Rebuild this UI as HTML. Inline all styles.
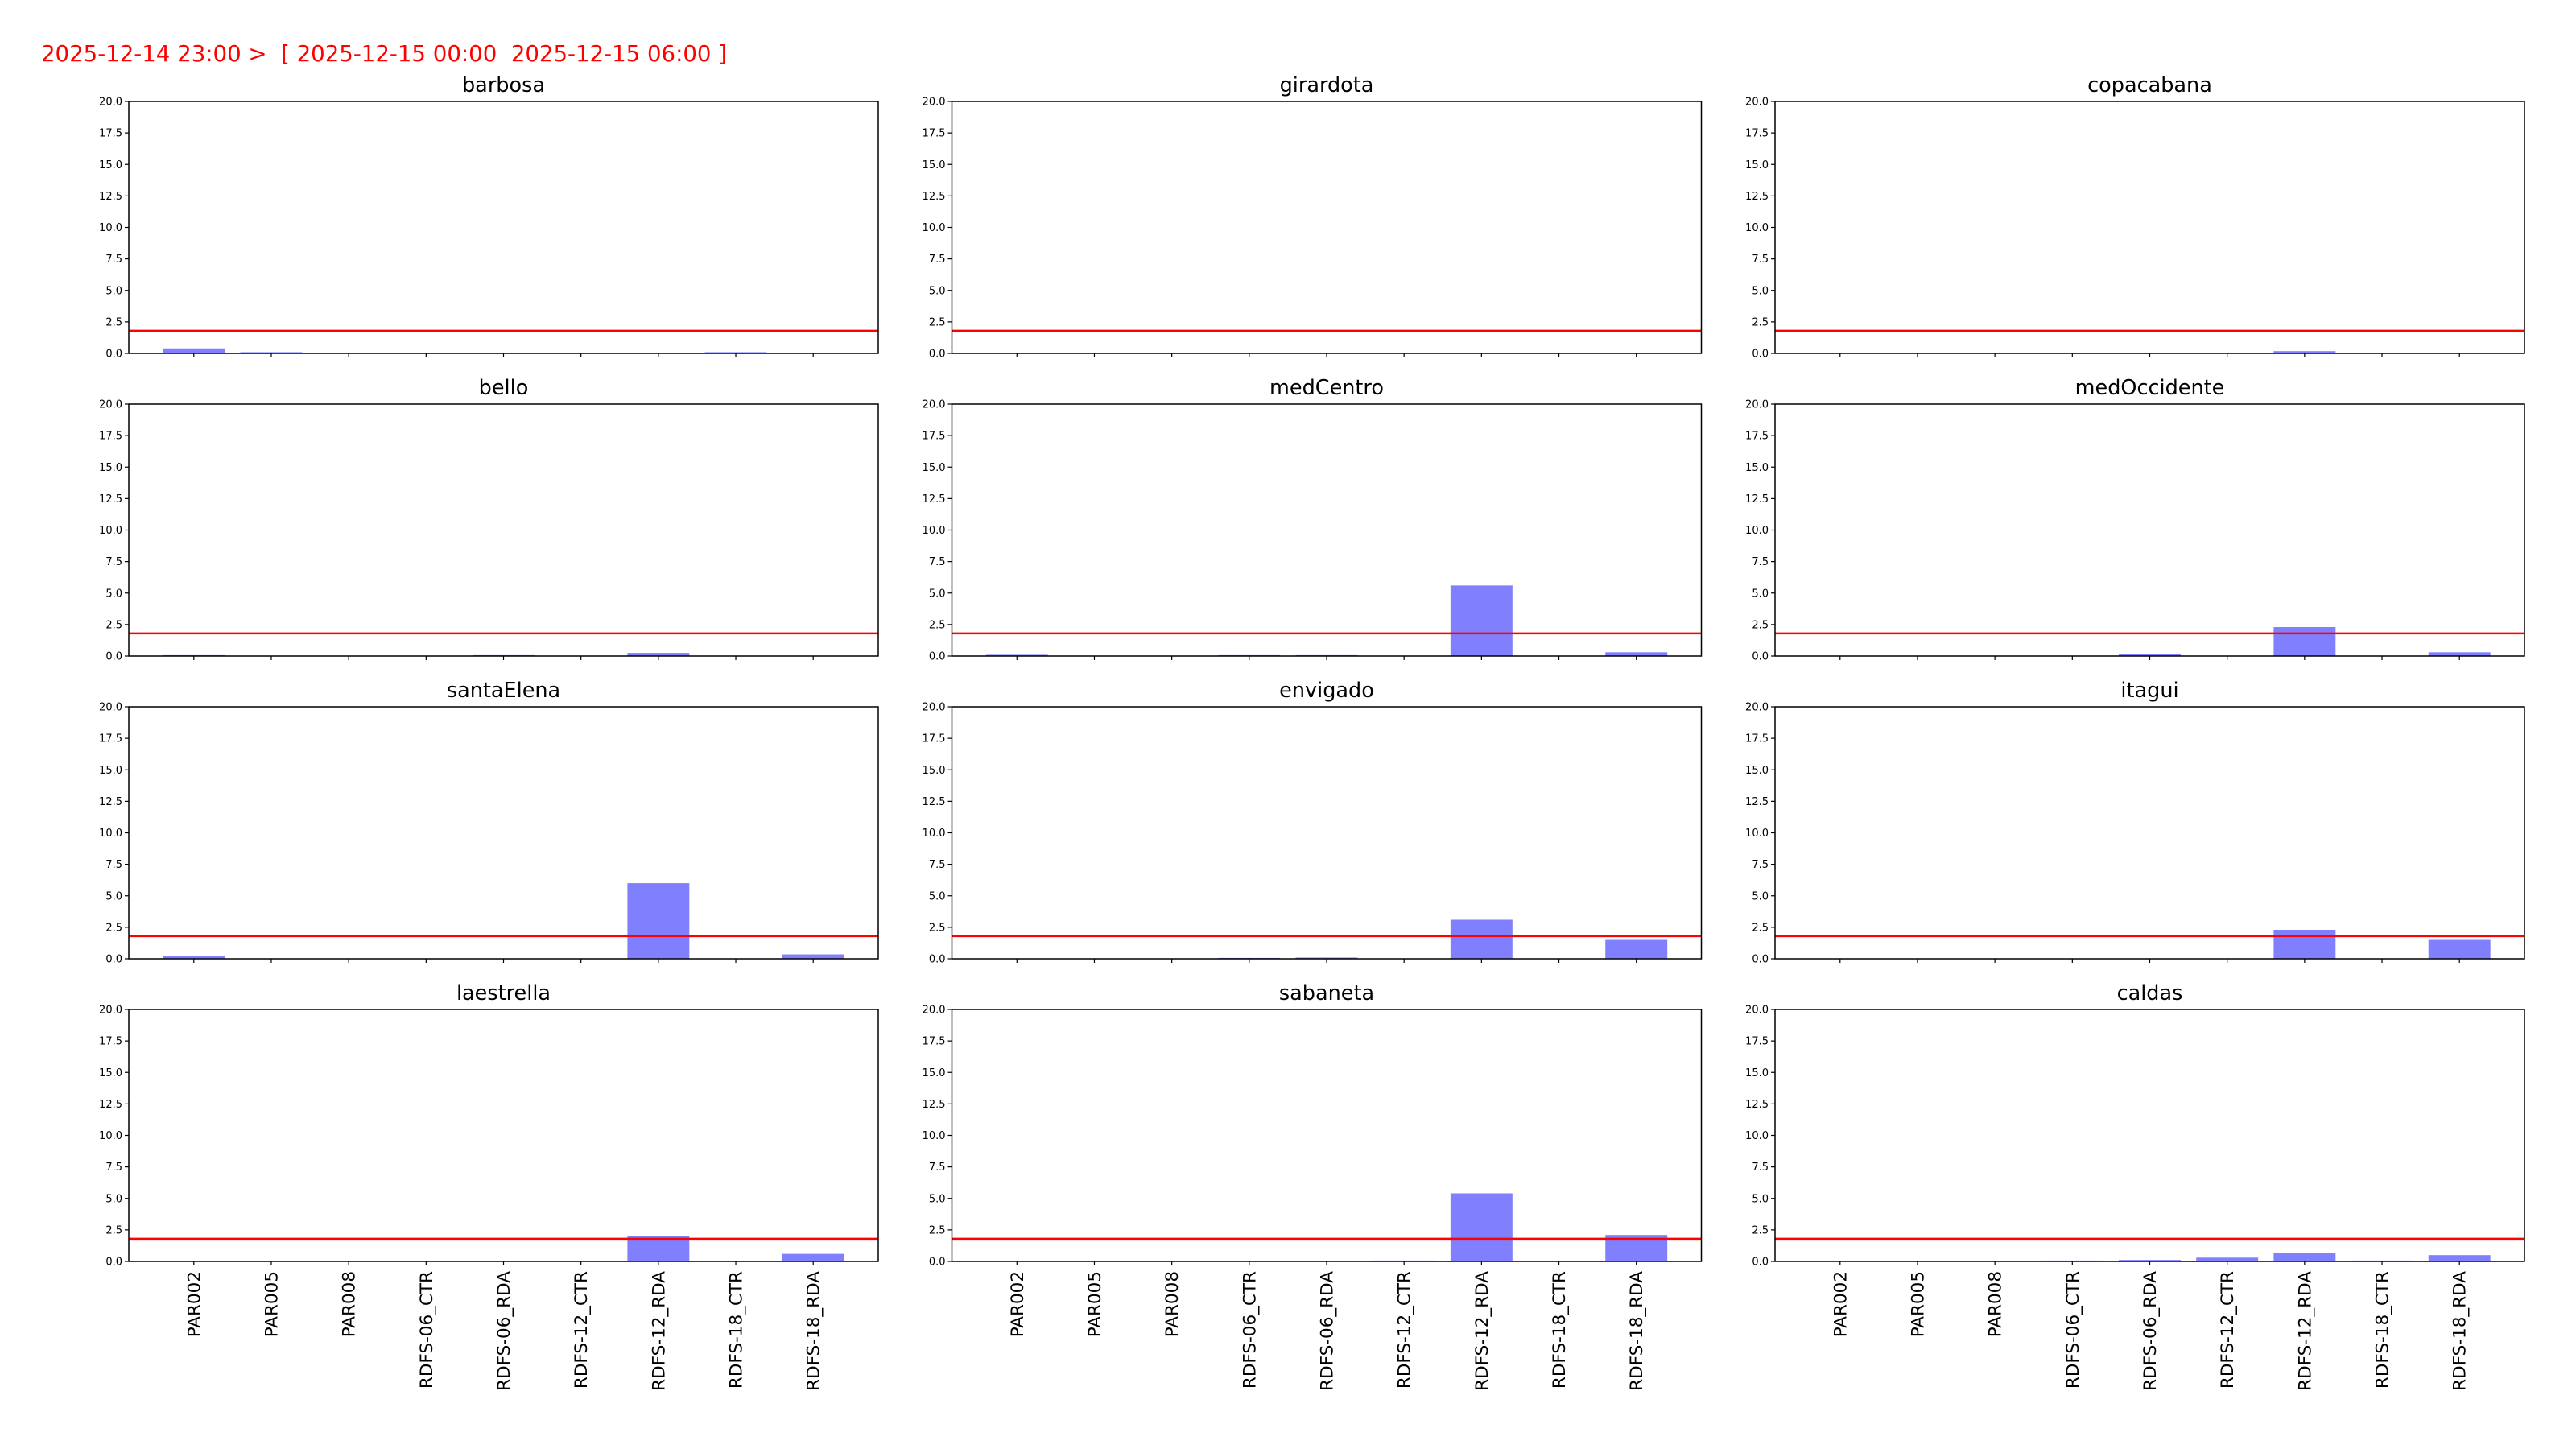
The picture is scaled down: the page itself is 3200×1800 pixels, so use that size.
<!DOCTYPE html>
<html><head><meta charset="utf-8"><style>
html,body{margin:0;padding:0;background:#fff;}
svg{display:block;font-family:"DejaVu Sans","Liberation Sans",sans-serif;}
</style></head><body>
<svg id="fig" width="3200" height="1800" viewBox="0 0 3200 1800" xmlns="http://www.w3.org/2000/svg">
<rect width="3200" height="1800" fill="#fff"/>
<text x="51" y="76" font-size="27.6" fill="#ff0000" xml:space="preserve">2025-12-14 23:00 &gt;  [ 2025-12-15 00:00  2025-12-15 06:00 ]</text>
</svg>
<script>
const categories = ["PAR002","PAR005","PAR008","RDFS-06_CTR","RDFS-06_RDA","RDFS-12_CTR","RDFS-12_RDA","RDFS-18_CTR","RDFS-18_RDA"];
const stations = ["barbosa","girardota","copacabana","bello","medCentro","medOccidente","santaElena","envigado","itagui","laestrella","sabaneta","caldas"];
const barbosaValues = [0.4,0.1,0,0,0,0,0,0.1,0];
const girardotaValues = [0,0,0,0,0,0,0,0,0];
const copacabanaValues = [0,0,0,0,0,0,0.18,0,0];
const belloValues = [0.07,0,0,0,0.07,0,0.25,0,0];
const medCentroValues = [0.1,0,0,0.07,0.07,0,5.6,0,0.3];
const medOccidenteValues = [0,0,0,0,0.15,0,2.3,0,0.3];
const santaElenaValues = [0.2,0,0,0,0,0,6.0,0,0.35];
const envigadoValues = [0,0,0,0.07,0.1,0,3.1,0,1.5];
const itaguiValues = [0,0,0,0,0,0,2.3,0,1.5];
const laestrellaValues = [0,0,0,0,0,0,2.0,0,0.6];
const sabanetaValues = [0,0,0,0,0,0.07,5.4,0,2.1];
const caldasValues = [0,0,0,0.07,0.12,0.3,0.7,0.07,0.5];
const thresholdValue = 1.8;
const yTicks = [0,2.5,5,7.5,10,12.5,15,17.5,20];
const yTickLabels = ["0.0","2.5","5.0","7.5","10.0","12.5","15.0","17.5","20.0"];

const seriesList = [barbosaValues,girardotaValues,copacabanaValues,belloValues,medCentroValues,medOccidenteValues,santaElenaValues,envigadoValues,itaguiValues,laestrellaValues,sabanetaValues,caldasValues];
const NS = "http://www.w3.org/2000/svg";
const svg = document.getElementById('fig');
function mk(tag, attrs, parent){ const e=document.createElementNS(NS,tag); for(const k in attrs) e.setAttribute(k,attrs[k]); (parent||svg).appendChild(e); return e; }

const W = 931, H = 313;
const colX = [160, 1182.5, 2205];
const rowY = [126, 502, 878, 1254];
const xMin = -0.84, xMax = 8.84, yMax = 20;

stations.forEach((name, i) => {
  const r = Math.floor(i/3), c = i%3;
  const L = colX[c], T = rowY[r];
  const xs = v => L + (v - xMin) / (xMax - xMin) * W;
  const ys = v => T + H - v / yMax * H;
  const g = mk('g', {});
  
  
  const title = mk('text', {x: L + W/2, y: T - 12, 'font-size': 25.5, 'text-anchor': 'middle', fill: '#000'}, g);
  
  
  title.textContent = name;
  const vals = seriesList[i];
  vals.forEach((v, k) => {
    if (v <= 0) return;
    const b = mk('rect', {x: xs(k - 0.4), y: ys(v), width: xs(k + 0.4) - xs(k - 0.4), height: ys(0) - ys(v), fill: '#8080ff'}, g);
    
    
  });
  const th = mk('line', {x1: L, x2: L + W, y1: ys(thresholdValue), y2: ys(thresholdValue), stroke: '#ff0000', 'stroke-width': 2.5}, g);
  
  
  const frame = mk('rect', {x: L, y: T, width: W, height: H, fill: 'none', stroke: '#000', 'stroke-width': 1.5}, g);
  
  
  yTicks.forEach((t, k) => {
    const y = ys(t);
    mk('line', {x1: L - 5, x2: L, y1: y, y2: y, stroke: '#000', 'stroke-width': 1.2}, g);
    const lb = mk('text', {x: L - 8, y: y + 4.5, 'font-size': 13, 'text-anchor': 'end', fill: '#000'}, g);
    
    
    lb.textContent = yTickLabels[k];
  });
  categories.forEach((cat, k) => {
    const x = xs(k);
    mk('line', {x1: x, x2: x, y1: T + H, y2: T + H + 5, stroke: '#000', 'stroke-width': 1.2}, g);
    if (r === 3) {
      const lb = mk('text', {transform: `translate(${x + 7.5},${T + H + 12}) rotate(-90)`, 'font-size': 21.5, 'text-anchor': 'end', fill: '#000'}, g);
      
      
      lb.textContent = cat;
    }
  });
});
</script>
</body></html>
